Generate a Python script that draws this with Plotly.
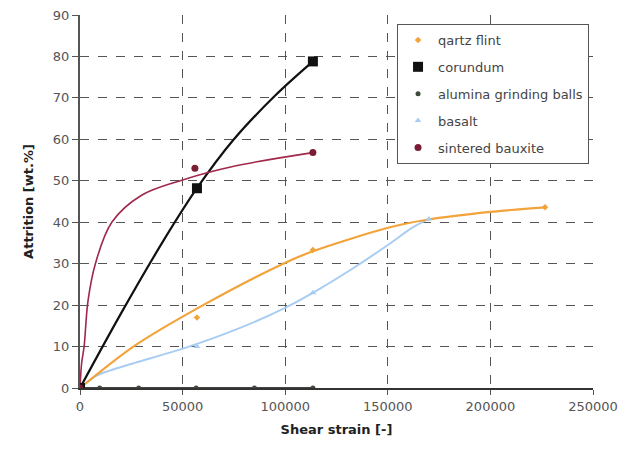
import plotly.graph_objects as go

# ---- data ----
quartz_x = [0, 57000, 113500, 226600]
quartz_y = [0, 17, 33.3, 43.6]
quartz_line_x = [0, 26000, 60000, 99000, 113500, 149600, 169000, 200000, 226600]
quartz_line_y = [0, 10, 20, 30, 33, 38.6, 40.6, 42.5, 43.6]

corundum_x = [0, 57000, 113500]
corundum_y = [0, 48.2, 78.8]
corundum_line_x = [0, 20000, 40000, 57000, 75000, 95000, 113500]
corundum_line_y = [0, 18, 35, 48.2, 60, 70.5, 78.8]

alumina_x = [0, 9600, 28600, 56600, 85000, 113500]
alumina_y = [0, 0, 0, 0, 0, 0]

basalt_x = [0, 57000, 113500, 170000]
basalt_y = [0, 10, 23, 40.8]
basalt_line_x = [0, 8000, 22900, 50200, 78000, 100900, 117000, 135000, 150000, 162300, 170000]
basalt_line_y = [0, 3, 5.5, 9.5, 14.5, 19.6, 24, 29.5, 34.5, 38.8, 40.8]

bauxite_x = [0, 56000, 113500]
bauxite_y = [0, 53, 56.8]
bauxite_line_x = [0, 800, 2000, 3900, 7500, 15500, 30000, 50000, 75000, 113500]
bauxite_line_y = [0, 6, 10, 21, 30, 40, 46.5, 50.2, 53.5, 56.8]

names = ["qartz flint", "corundum", "alumina grinding balls", "basalt", "sintered bauxite"]

C_Q = "#f2a33a"
C_C = "#111111"
C_A = "#3d4a3a"
C_B = "#a9cdf2"
C_S = "#7a1c34"

fig = go.Figure()

# trend lines (not in legend)
fig.add_trace(go.Scatter(x=basalt_line_x, y=basalt_line_y, mode="lines", line=dict(color=C_B, width=2, shape="spline", smoothing=0.6), showlegend=False, hoverinfo="skip"))
fig.add_trace(go.Scatter(x=quartz_line_x, y=quartz_line_y, mode="lines", line=dict(color=C_Q, width=2.2, shape="spline", smoothing=0.8), showlegend=False, hoverinfo="skip"))
fig.add_trace(go.Scatter(x=alumina_x, y=alumina_y, mode="lines", line=dict(color="#444444", width=2), showlegend=False, hoverinfo="skip"))
fig.add_trace(go.Scatter(x=corundum_line_x, y=corundum_line_y, mode="lines", line=dict(color=C_C, width=2.2, shape="spline", smoothing=1), showlegend=False, hoverinfo="skip"))
fig.add_trace(go.Scatter(x=bauxite_line_x, y=bauxite_line_y, mode="lines", line=dict(color="#a0284a", width=1.6, shape="spline"), showlegend=False, hoverinfo="skip"))

# markers (legend entries)
fig.add_trace(go.Scatter(x=quartz_x, y=quartz_y, mode="markers", name=names[0], legendgroup="a",
                         marker=dict(symbol="diamond", size=5, color=C_Q)))
fig.add_trace(go.Scatter(x=corundum_x, y=corundum_y, mode="markers", name=names[1], legendgroup="b",
                         marker=dict(symbol="square", size=10, color=C_C)))
fig.add_trace(go.Scatter(x=alumina_x, y=alumina_y, mode="markers", name=names[2], legendgroup="c",
                         marker=dict(symbol="circle", size=5, color=C_A)))
fig.add_trace(go.Scatter(x=basalt_x, y=basalt_y, mode="markers", name=names[3], legendgroup="d",
                         marker=dict(symbol="triangle-up", size=6, color=C_B)))
fig.add_trace(go.Scatter(x=bauxite_x, y=bauxite_y, mode="markers", name=names[4], legendgroup="e",
                         marker=dict(symbol="circle", size=7, color=C_S)))

grid = dict(showgrid=True, gridcolor="#555555", gridwidth=1, griddash="dash")

fig.update_layout(
    width=625, height=461,
    margin=dict(l=80, r=32, t=15, b=73, autoexpand=False),
    paper_bgcolor="white", plot_bgcolor="white",
    font=dict(family="DejaVu Sans, Arial, sans-serif", size=13, color="#555555"),
    legend=dict(x=0.618, y=0.976, xanchor="left", yanchor="top",
                bgcolor="white", bordercolor="#555555", borderwidth=1,
                font=dict(size=13, color="#444444"),
                traceorder="grouped", tracegroupgap=7, itemwidth=30),
    xaxis=dict(range=[0, 250000], tickvals=[0, 50000, 100000, 150000, 200000, 250000],
               ticktext=["0", "50000", "100000", "150000", "200000", "250000"],
               showline=True, linecolor="#333333", linewidth=2, zeroline=False,
               ticks="outside", ticklen=5, tickcolor="#555555", automargin=False,
               title=dict(text="<b>Shear strain [-]</b>", font=dict(size=13, color="#222222"), standoff=12),
               **grid),
    yaxis=dict(range=[0, 90], tickvals=[0, 10, 20, 30, 40, 50, 60, 70, 80, 90],
               showline=True, linecolor="#555555", linewidth=2, zeroline=False,
               ticks="outside", ticklen=6, tickcolor="#555555", automargin=False,
               title=dict(text="<b>Attrition [wt.%]</b>", font=dict(size=13, color="#222222"), standoff=16),
               **grid),
)

fig.write_html("out.html")
